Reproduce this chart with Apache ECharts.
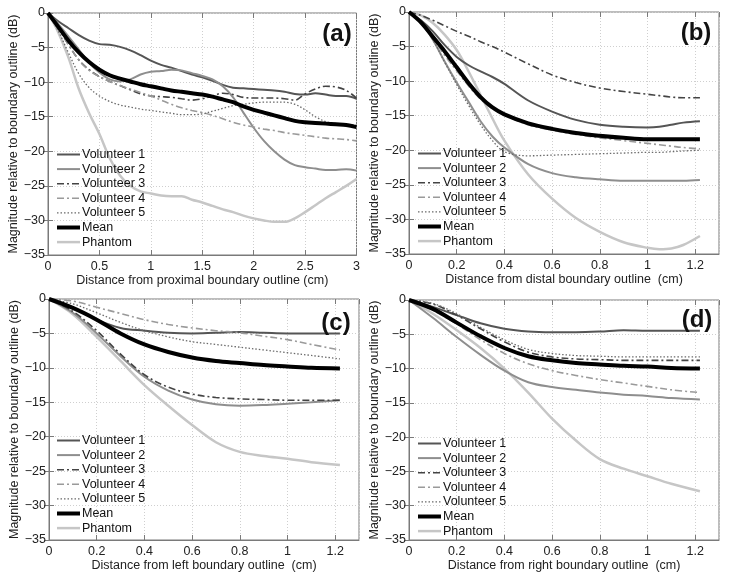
<!DOCTYPE html>
<html>
<head>
<meta charset="utf-8">
<script src="https://cdn.jsdelivr.net/npm/echarts@6/dist/echarts.min.js"></script>
<style>
html,body{margin:0;padding:0;background:#fff;}
#c{width:729px;height:580px;}
</style>
</head>
<body>
<div id="c"></div>
<script>
// ---------- data ----------
var seriesNames = ['Volunteer 1','Volunteer 2','Volunteer 3','Volunteer 4','Volunteer 5','Mean','Phantom'];
var panelLabels = ['(a)','(b)','(c)','(d)'];
var xNames = ['Distance from proximal boundary outline (cm)','Distance from distal boundary outline  (cm)','Distance from left boundary outline  (cm)','Distance from right boundary outline  (cm)'];
var yName = 'Magnitude relative to boundary outline (dB)';

// Panel (a)
var xA = [0,0.1,0.2,0.3,0.4,0.5,0.6,0.7,0.8,0.9,1.0,1.1,1.2,1.3,1.4,1.5,1.6,1.7,1.8,1.9,2.0,2.1,2.2,2.3,2.4,2.5,2.6,2.7,2.8,2.9,3.0];
var a_v1 = [0,-1.2,-2.2,-3.2,-4.0,-4.5,-4.6,-4.9,-5.4,-6.1,-6.9,-7.5,-7.9,-8.4,-8.9,-9.3,-9.8,-10.4,-10.8,-10.9,-11.0,-11.1,-11.2,-11.4,-11.7,-11.8,-11.6,-11.8,-12.0,-12.0,-12.4];
var a_v2 = [0,-1.6,-3.4,-5.3,-7.2,-8.6,-9.6,-9.9,-9.6,-8.9,-8.5,-8.4,-8.2,-8.3,-8.7,-9.1,-9.6,-10.6,-12.2,-14.4,-16.6,-18.5,-20.0,-21.2,-22.0,-22.3,-22.5,-22.7,-22.7,-22.6,-22.8];
var a_v3 = [0,-2.2,-4.6,-6.8,-8.2,-9.2,-9.9,-10.5,-11.1,-11.7,-12.0,-12.1,-12.2,-12.4,-12.6,-12.4,-12.0,-11.6,-11.8,-12.2,-12.3,-12.3,-12.3,-12.4,-12.6,-11.7,-11.0,-10.6,-10.7,-11.2,-12.3];
var a_v4 = [0,-2.2,-4.6,-6.8,-8.3,-9.2,-9.9,-10.5,-11.0,-11.5,-12.0,-12.6,-13.2,-13.7,-14.1,-14.4,-14.8,-15.3,-15.8,-16.2,-16.5,-16.8,-17.0,-17.3,-17.5,-17.7,-17.9,-18.1,-18.2,-18.3,-18.5];
var a_v5 = [0,-2.6,-5.8,-8.8,-10.8,-12.0,-12.8,-13.3,-13.6,-13.9,-14.1,-14.3,-14.5,-14.7,-14.7,-14.6,-14.2,-13.8,-13.4,-13.2,-13.0,-12.9,-12.9,-12.9,-13.2,-14.0,-15.0,-15.7,-16.0,-16.1,-16.2];
var a_mean = [0,-2.0,-4.0,-5.7,-7.1,-8.2,-9.0,-9.5,-9.9,-10.3,-10.6,-10.9,-11.2,-11.4,-11.6,-11.8,-12.1,-12.5,-12.9,-13.5,-14.0,-14.4,-14.8,-15.2,-15.6,-15.8,-15.9,-16.0,-16.1,-16.2,-16.5];
var a_ph = [0,-2.8,-6.5,-11.0,-14.5,-17.5,-21.0,-23.5,-25.0,-25.8,-26.1,-26.4,-26.5,-26.5,-27.0,-27.4,-27.9,-28.4,-28.8,-29.3,-29.7,-30.0,-30.2,-30.2,-29.7,-28.8,-27.8,-26.8,-25.9,-25.0,-24.0];

// Panel (b)
var xB = [0,0.05,0.1,0.15,0.2,0.25,0.3,0.35,0.4,0.5,0.6,0.7,0.8,0.9,1.0,1.05,1.1,1.15,1.22];
var b_v1 = [0,-1.2,-2.8,-4.8,-6.5,-7.7,-8.6,-9.4,-10.4,-12.8,-14.4,-15.6,-16.3,-16.6,-16.7,-16.6,-16.3,-16.0,-15.8];
var b_v2 = [0,-1.5,-4.0,-7.2,-10.2,-13.0,-15.8,-18.0,-19.6,-22.0,-23.3,-23.9,-24.2,-24.4,-24.4,-24.4,-24.4,-24.4,-24.3];
var b_v3 = [0,-0.5,-1.2,-2.0,-2.8,-3.5,-4.3,-5.0,-5.8,-7.5,-9.1,-10.2,-11.0,-11.5,-11.9,-12.1,-12.3,-12.4,-12.4];
var b_v4 = [0,-1.6,-3.8,-6.3,-8.5,-10.7,-12.6,-14.0,-14.9,-16.3,-17.1,-17.7,-18.2,-18.6,-19.0,-19.2,-19.4,-19.6,-19.8];
var b_v5 = [0,-1.6,-4.0,-7.3,-10.5,-13.5,-16.3,-18.6,-20.2,-20.8,-20.7,-20.6,-20.5,-20.4,-20.3,-20.3,-20.2,-20.1,-20.0];
var b_mean = [0,-1.5,-3.6,-5.7,-8.0,-10.3,-12.3,-13.8,-14.8,-16.1,-16.9,-17.5,-17.9,-18.2,-18.4,-18.4,-18.4,-18.4,-18.4];
var b_ph = [0,-0.5,-1.6,-3.3,-5.5,-8.6,-12.0,-15.4,-18.6,-23.5,-27.0,-29.8,-31.8,-33.3,-34.1,-34.3,-34.2,-33.7,-32.4];

// Panel (c)
var xC = [0,0.1,0.2,0.3,0.4,0.5,0.6,0.7,0.8,0.9,1.0,1.1,1.22];
var c_v1 = [0,-1.3,-3.0,-4.2,-4.6,-4.9,-5.0,-4.9,-4.8,-4.9,-5.0,-5.0,-5.0];
var c_v2 = [0,-2.0,-5.0,-8.3,-11.3,-13.3,-14.6,-15.3,-15.5,-15.4,-15.2,-15.0,-14.7];
var c_v3 = [0,-1.8,-4.6,-8.0,-11.0,-12.8,-13.8,-14.3,-14.5,-14.6,-14.7,-14.7,-14.7];
var c_v4 = [0,-0.3,-1.2,-2.1,-3.0,-3.7,-4.2,-4.6,-4.9,-5.4,-5.9,-6.6,-7.4];
var c_v5 = [0,-0.7,-2.0,-3.4,-4.6,-5.5,-6.2,-6.6,-7.0,-7.4,-7.8,-8.2,-8.7];
var c_mean = [0,-1.3,-3.0,-5.0,-6.6,-7.7,-8.5,-9.0,-9.3,-9.6,-9.8,-10.0,-10.1];
var c_ph = [0,-2.2,-5.5,-9.0,-12.5,-15.5,-18.3,-20.8,-22.2,-22.8,-23.2,-23.7,-24.1];

// Panel (d)
var xD = [0,0.1,0.2,0.3,0.4,0.5,0.6,0.7,0.8,0.9,1.0,1.1,1.22];
var d_v1 = [0,-1.0,-2.2,-3.4,-4.2,-4.6,-4.7,-4.7,-4.6,-4.4,-4.5,-4.5,-4.5];
var d_v2 = [0,-2.6,-5.4,-8.0,-10.3,-12.0,-12.7,-13.1,-13.5,-13.8,-14.0,-14.3,-14.5];
var d_v3 = [0,-0.6,-2.2,-4.2,-6.1,-7.6,-8.3,-8.6,-8.7,-8.8,-8.8,-8.8,-8.8];
var d_v4 = [0,-1.5,-3.5,-5.8,-7.8,-9.3,-10.3,-11.0,-11.6,-12.1,-12.6,-13.1,-13.5];
var d_v5 = [0,-0.5,-2.0,-4.0,-5.8,-7.2,-7.8,-8.1,-8.2,-8.3,-8.3,-8.3,-8.3];
var d_mean = [0,-1.3,-3.3,-5.3,-7.0,-8.2,-8.8,-9.2,-9.4,-9.6,-9.7,-9.9,-10.0];
var d_ph = [0,-2.0,-4.4,-7.0,-10.0,-13.5,-17.3,-20.5,-23.2,-24.6,-25.7,-26.8,-27.9];

var xTickA = [0,0.5,1,1.5,2,2.5,3];
var xTickB = [0,0.2,0.4,0.6,0.8,1,1.2];
var yTicks = [0,-5,-10,-15,-20,-25,-30,-35];

// ---------- build ----------
var panels = [
  {x:xA, s:[a_v1,a_v2,a_v3,a_v4,a_v5,a_mean,a_ph], xmax:3, xint:0.5},
  {x:xB, s:[b_v1,b_v2,b_v3,b_v4,b_v5,b_mean,b_ph], xmax:1.3, xint:0.2},
  {x:xC, s:[c_v1,c_v2,c_v3,c_v4,c_v5,c_mean,c_ph], xmax:1.3, xint:0.2},
  {x:xD, s:[d_v1,d_v2,d_v3,d_v4,d_v5,d_mean,d_ph], xmax:1.3, xint:0.2}
];
var grids = [
  {left:48, top:13, width:308.5, height:242},
  {left:409, top:12, width:310, height:242},
  {left:49, top:299, width:310, height:241},
  {left:409, top:300, width:310, height:240}
];
var styles = [
  {color:'#555555', width:2, type:'solid'},
  {color:'#8e8e8e', width:2, type:'solid'},
  {color:'#444444', width:1.6, type:[7,3,2,3]},
  {color:'#9a9a9a', width:1.6, type:[7,3,2,3]},
  {color:'#6a6a6a', width:1.3, type:[1.5,2]},
  {color:'#000000', width:4, type:'solid'},
  {color:'#c6c6c6', width:2.5, type:'solid'}
];
var legendPos = [{left:55, top:148},{left:416, top:147},{left:55, top:434},{left:416, top:437}];
var labelPos = [[337,34],[696,33],[336,323],[697,320]];

function minusFmt(v){ var s = String(Math.round(v*10)/10); return s.replace('-', '\u2212'); }

var font = 'Liberation Sans, Arial, Helvetica, sans-serif';
var axisGray = '#7a7a7a';
var xAxes = [], yAxes = [], series = [], legends = [], graphics = [];
panels.forEach(function(p, i){
  grids[i].show = true;
  grids[i].borderColor = axisGray;
  grids[i].borderWidth = 1;
  xAxes.push({
    type:'value', gridIndex:i, min:0, max:p.xmax, interval:p.xint,
    name:xNames[i], nameLocation:'middle', nameGap:18,
    nameTextStyle:{fontSize:12.5, color:'#222', fontFamily:font},
    axisLine:{show:true, onZero:false, lineStyle:{color:axisGray}},
    axisTick:{show:true, inside:true, length:5, lineStyle:{color:axisGray}},
    axisLabel:{fontSize:12.5, color:'#222', margin:5, fontFamily:font, showMaxLabel: p.xmax===3,
      formatter:function(v){ return minusFmt(v); }},
    splitLine:{show:true, lineStyle:{color:'#cfcfcf', type:[1,2], width:1}}
  });
  yAxes.push({
    type:'value', gridIndex:i, min:-35, max:0, interval:5,
    name:yName, nameLocation:'middle', nameGap:27,
    nameTextStyle:{fontSize:12.5, color:'#222', fontFamily:font},
    axisLine:{show:true, onZero:false, lineStyle:{color:axisGray}},
    axisTick:{show:true, inside:true, length:5, lineStyle:{color:axisGray}},
    axisLabel:{fontSize:12.5, color:'#222', margin:3, fontFamily:font, formatter:function(v){ return minusFmt(v); }},
    splitLine:{show:true, lineStyle:{color:'#cfcfcf', type:[1,2], width:1}}
  });
  p.s.forEach(function(vals, k){
    var data = p.x.map(function(xv, j){ return [xv, vals[j]]; });
    series.push({
      type:'line', name:seriesNames[k], xAxisIndex:i, yAxisIndex:i,
      data:data, smooth:0.35, symbol:'none', showSymbol:false,
      z: k===5 ? 5 : (k===6 ? 2 : 3),
      lineStyle:{color:styles[k].color, width:styles[k].width, type:styles[k].type},
      itemStyle:{color:styles[k].color},
      animation:false
    });
  });
  legends.push({
    orient:'vertical', left:legendPos[i].left, top:legendPos[i].top, padding:0,
    itemWidth:23, itemHeight:14, itemGap:1.6, selectedMode:false,
    itemStyle:{opacity:0},
    lineStyle:{width:'inherit'},
    data:seriesNames.slice(),
    textStyle:{fontSize:12.5, color:'#111', fontFamily:font, padding:[0,0,0,-3]}
  });
  graphics.push({
    type:'text', x:labelPos[i][0], y:labelPos[i][1],
    style:{text:panelLabels[i], font:'bold 24px ' + font, fill:'#111', textAlign:'center', textVerticalAlign:'middle'},
    z:10
  });
});
// mirrored ticks on top and right edges (MATLAB box style)
panels.forEach(function(p, i){
  xAxes.push({
    type:'value', gridIndex:i, position:'top', min:0, max:p.xmax, interval:p.xint,
    axisLine:{show:false}, axisLabel:{show:false}, splitLine:{show:false},
    axisTick:{show:true, inside:true, length:5, lineStyle:{color:axisGray}}
  });
  yAxes.push({
    type:'value', gridIndex:i, position:'right', min:-35, max:0, interval:5,
    axisLine:{show:false}, axisLabel:{show:false}, splitLine:{show:false},
    axisTick:{show:true, inside:true, length:5, lineStyle:{color:axisGray}}
  });
});

var chart = echarts.init(document.getElementById('c'), null, {renderer:'canvas'});
chart.setOption({
  backgroundColor:'#ffffff',
  animation:false,
  grid:grids, xAxis:xAxes, yAxis:yAxes, series:series, legend:legends, graphic:graphics
});
</script>
</body>
</html>
